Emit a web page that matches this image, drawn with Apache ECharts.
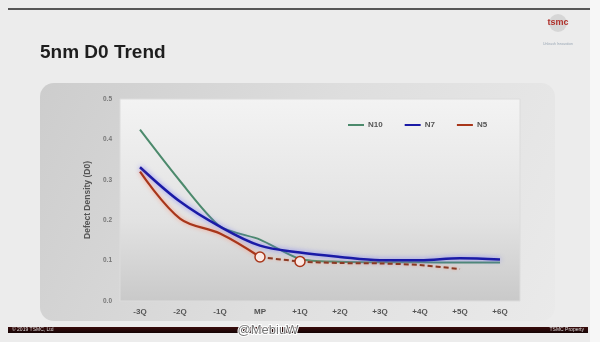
<!DOCTYPE html>
<html>
<head>
<meta charset="utf-8">
<script src="https://cdn.jsdelivr.net/npm/echarts@6/dist/echarts.min.js"></script>
<style>
html,body{margin:0;padding:0;background:#f6f6f6;}
#c{width:600px;height:342px;}
</style>
</head>
<body>
<div id="c"></div>
<script>
var categories = ['-3Q','-2Q','-1Q','MP','+1Q','+2Q','+3Q','+4Q','+5Q','+6Q'];
var yTicks = [0, 0.1, 0.2, 0.3, 0.4, 0.5];
var n10 = [0.424, 0.297, 0.185, 0.152, 0.104, 0.097, 0.096, 0.096, 0.095, 0.095];
var n7 = [0.331, 0.246, 0.184, 0.137, 0.120, 0.109, 0.101, 0.101, 0.106, 0.103];
var n5Actual = [0.320, 0.204, 0.167, 0.109, null, null, null, null, null, null];
var n5Forecast = [null, null, null, 0.109, 0.098, 0.094, 0.093, 0.089, 0.079, null];
var n5MarkerIdx = [3, 4];

var chart = echarts.init(document.getElementById('c'));
var FONT = 'Liberation Sans, Arial, sans-serif';

var forecastData = n5Forecast.map(function (v, i) {
  if (n5MarkerIdx.indexOf(i) >= 0) return { value: v, symbol: 'circle', symbolSize: 10 };
  return { value: v, symbol: 'none' };
});

chart.setOption({
  backgroundColor: '#ececec',
  animation: false,
  title: {
    text: '5nm D0 Trend', left: 35, top: 38,
    textStyle: { fontFamily: FONT, fontSize: 19, fontWeight: 'bold', color: '#1e1e1e' }
  },
  graphic: [
    { type: 'rect', z: -10, shape: { x: 0, y: 0, width: 600, height: 342 }, style: { fill: '#ececec' } },
    { type: 'rect', z: -9, shape: { x: 590, y: 0, width: 10, height: 342 }, style: { fill: '#f7f7f7' } },
    { type: 'rect', z: -9, shape: { x: 8, y: 8, width: 582, height: 2 }, style: { fill: '#555555' } },
    { type: 'rect', z: -8, shape: { x: 40, y: 83, width: 515, height: 238, r: 14 },
      style: { fill: new echarts.graphic.LinearGradient(0, 0, 1, 1, [
        { offset: 0, color: '#cdcdcd' }, { offset: 0.5, color: '#dedede' }, { offset: 1, color: '#eaeaea' }]) } },
    { type: 'rect', z: -9, shape: { x: 8, y: 327, width: 580, height: 6 },
      style: { fill: new echarts.graphic.LinearGradient(0, 0, 0, 1, [
        { offset: 0, color: '#3a0c0c' }, { offset: 1, color: '#140404' }]) } },
    { type: 'text', z: 5, style: { x: 12, y: 327.5, text: '\u00a9 2019 TSMC, Ltd', fill: '#dddddd', fontSize: 5, fontFamily: FONT } },
    { type: 'text', z: 5, style: { x: 584, y: 327.5, text: 'TSMC Property', align: 'right', fill: '#dddddd', fontSize: 5, fontFamily: FONT } },
    { type: 'circle', z: 5, shape: { cx: 558, cy: 23, r: 9 }, style: { fill: '#c8c8c8', opacity: 0.6 } },
    { type: 'text', z: 6, style: { x: 558, y: 23, text: 'tsmc', align: 'center', verticalAlign: 'middle', fill: '#b0302a', fontSize: 9, fontWeight: 'bold', fontFamily: FONT } },
    { type: 'text', z: 6, style: { x: 558, y: 44, text: 'Unleash Innovation', align: 'center', verticalAlign: 'middle', fill: '#9aa7b5', fontSize: 3.5, fontFamily: FONT } },
    { type: 'text', z: 20, style: { x: 268, y: 330, text: '@MebiuW', align: 'center', verticalAlign: 'middle', fill: '#777777', stroke: '#ffffff', lineWidth: 2, fontSize: 13, fontFamily: FONT } }
  ],
  legend: {
    top: 116, left: 343,
    itemWidth: 16, itemHeight: 2, itemGap: 22,
    icon: 'rect',
    textStyle: { fontFamily: FONT, fontSize: 8, fontWeight: 'bold', color: '#555', padding: [0, 0, 0, -1] },
    data: ['N10', 'N7', 'N5']
  },
  grid: {
    left: 120, right: 80, top: 99, bottom: 41,
    show: true,
    borderColor: '#dcdcdc', borderWidth: 1,
    backgroundColor: new echarts.graphic.LinearGradient(0, 0, 0, 1, [
      { offset: 0, color: '#f3f3f3' }, { offset: 0.6, color: '#e2e2e2' }, { offset: 1, color: '#c9c9c9' }])
  },
  xAxis: {
    type: 'category', data: categories, boundaryGap: true,
    axisLine: { show: false }, axisTick: { show: false },
    axisLabel: { fontFamily: FONT, fontSize: 8, fontWeight: 'bold', color: '#555', margin: 7 }
  },
  yAxis: {
    type: 'value', min: yTicks[0], max: yTicks[yTicks.length - 1], interval: 0.1,
    name: 'Defect Density (D0)', nameLocation: 'middle', nameRotate: 90, nameGap: 28,
    nameTextStyle: { fontFamily: FONT, fontSize: 8.5, fontWeight: 'bold', color: '#555' },
    axisLine: { show: false }, axisTick: { show: false }, splitLine: { show: false },
    axisLabel: { fontFamily: FONT, fontSize: 6.5, fontWeight: 'bold', color: '#777', margin: 8,
      formatter: function (v) { return v.toFixed(1); } }
  },
  series: [
    { name: 'N10', type: 'line', data: n10, smooth: 0.25, showSymbol: false, z: 3,
      itemStyle: { color: '#4c8a6c' },
      lineStyle: { width: 2, color: '#4c8a6c' } },
    { name: 'N7', type: 'line', data: n7, smooth: 0.35, showSymbol: false, z: 4,
      itemStyle: { color: '#1a1aa6' },
      lineStyle: { width: 2.5, color: '#1a1aa6', shadowColor: 'rgba(110,110,255,0.8)', shadowBlur: 5 } },
    { name: 'N5', type: 'line', data: n5Actual, smooth: 0.35, showSymbol: false, z: 5,
      itemStyle: { color: '#a8361a' },
      lineStyle: { width: 2.2, color: '#a8361a', shadowColor: 'rgba(255,140,110,0.8)', shadowBlur: 4 } },
    { name: 'N5', type: 'line', data: forecastData, smooth: 0.3, z: 6,
      itemStyle: { color: '#fbe9e4', borderColor: '#a8361a', borderWidth: 1.5 },
      lineStyle: { width: 2, type: [5, 3], color: '#8a3a24', shadowColor: 'rgba(255,140,110,0.6)', shadowBlur: 3 } }
  ]
});
</script>
</body>
</html>
